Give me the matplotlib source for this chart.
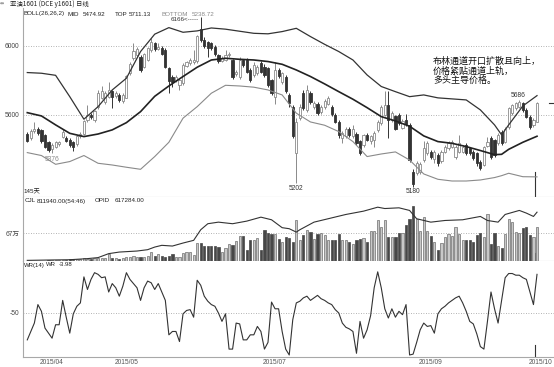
import matplotlib
matplotlib.use("Agg")
import matplotlib.pyplot as plt

plt.rcParams['font.family'] = ['Liberation Sans Narrow', 'Liberation Sans', 'DejaVu Sans',
                               'Noto Sans CJK SC']

# ---- daily candles (index 0..144) ----
opens = [5490, 5465, 5505, 5520, 5510, 5480, 5440, 5400, 5415, 5430,
         5470, 5465, 5455, 5440, 5430, 5475, 5490, 5570, 5600, 5570,
         5645, 5700, 5675, 5705, 5735, 5710, 5715, 5680, 5700, 5840,
         5928, 5945, 5938, 5880, 5920, 5975, 6015, 5980, 5990, 5975,
         5870, 5820, 5800, 5775, 5785, 5885, 5900, 5905, 5910, 6100,
         6035, 6020, 6015, 5995, 5945, 5915, 5920, 5945, 5918, 5835,
         5822, 5918, 5920, 5860, 5830, 5840, 5900, 5880, 5870, 5800,
         5705, 5860, 5790, 5820, 5715, 5645, 5375, 5580, 5725, 5625,
         5725, 5645, 5665, 5615, 5645, 5665, 5645, 5600, 5560, 5465,
         5475, 5520, 5475, 5490, 5445, 5425, 5485, 5445, 5455, 5510,
         5550, 5600, 5655, 5570, 5590, 5600, 5525, 5570, 5540, 5270,
         5260, 5265, 5337, 5375, 5385, 5345, 5365, 5330, 5385, 5405,
         5415, 5357, 5385, 5385, 5425, 5405, 5385, 5375, 5328, 5308,
         5420, 5463, 5453, 5434, 5502, 5444, 5530, 5610, 5637, 5647,
         5667, 5628, 5589, 5540, 5560]
closes = [5450, 5505, 5520, 5495, 5445, 5415, 5395, 5425, 5440, 5440,
          5500, 5450, 5425, 5410, 5475, 5490, 5565, 5600, 5585, 5620,
          5725, 5735, 5725, 5745, 5705, 5725, 5685, 5715, 5825, 5895,
          5973, 5980, 5860, 5950, 5985, 6025, 5980, 5995, 5955, 5880,
          5795, 5790, 5820, 5800, 5890, 5905, 5918, 5920, 6055, 6035,
          6000, 5990, 5985, 5950, 5910, 5930, 5945, 5950, 5822, 5850,
          5918, 5890, 5850, 5800, 5890, 5880, 5850, 5830, 5770, 5725,
          5860, 5825, 5840, 5735, 5667, 5475, 5560, 5645, 5640, 5745,
          5675, 5670, 5610, 5645, 5680, 5695, 5605, 5560, 5485, 5495,
          5520, 5480, 5515, 5435, 5375, 5480, 5455, 5475, 5495, 5560,
          5645, 5655, 5570, 5610, 5520, 5550, 5565, 5545, 5337, 5195,
          5318, 5315, 5405, 5435, 5357, 5385, 5318, 5385, 5415, 5434,
          5444, 5415, 5434, 5415, 5375, 5375, 5347, 5318, 5290, 5410,
          5440, 5357, 5366, 5482, 5434, 5520, 5637, 5657, 5667, 5676,
          5628, 5589, 5531, 5570, 5667]
highs = [5500, 5515, 5560, 5530, 5520, 5490, 5450, 5435, 5450, 5450,
         5520, 5475, 5465, 5450, 5485, 5500, 5570, 5655, 5610, 5630,
         5745, 5765, 5740, 5790, 5745, 5735, 5725, 5725, 5830, 5905,
         6015, 5995, 5945, 5960, 5995, 6045, 6025, 6015, 6000, 5985,
         5880, 5830, 5830, 5815, 5900, 5915, 5930, 5975, 6065, 6166,
         6050, 6030, 6025, 6005, 5955, 5940, 5975, 5965, 5925, 5860,
         5935, 5925, 5930, 5870, 5905, 5890, 5910, 5895, 5880, 5810,
         5905, 5870, 5850, 5830, 5725, 5655, 5580, 5660, 5745, 5770,
         5735, 5680, 5675, 5655, 5690, 5710, 5655, 5610, 5570, 5505,
         5530, 5530, 5540, 5500, 5455, 5490, 5495, 5485, 5505, 5570,
         5655, 5735, 5735, 5620, 5600, 5610, 5575, 5605, 5550, 5285,
         5330, 5325, 5445, 5445, 5395, 5395, 5375, 5395, 5425, 5445,
         5455, 5425, 5482, 5425, 5435, 5415, 5395, 5385, 5335, 5420,
         5470, 5475, 5460, 5495, 5510, 5530, 5647, 5665, 5675, 5686,
         5675, 5640, 5600, 5580, 5672]
lows = [5440, 5455, 5495, 5485, 5435, 5405, 5385, 5376, 5405, 5420,
        5465, 5440, 5415, 5390, 5420, 5465, 5480, 5560, 5575, 5560,
        5635, 5690, 5665, 5695, 5640, 5700, 5675, 5670, 5695, 5830,
        5920, 5935, 5850, 5870, 5910, 5965, 5970, 5975, 5945, 5870,
        5725, 5760, 5790, 5745, 5775, 5875, 5890, 5895, 5900, 6020,
        5990, 5935, 5975, 5940, 5900, 5905, 5910, 5935, 5810, 5825,
        5810, 5880, 5840, 5790, 5820, 5830, 5840, 5820, 5760, 5715,
        5665, 5815, 5780, 5725, 5645, 5465, 5202, 5570, 5625, 5615,
        5660, 5635, 5600, 5605, 5635, 5655, 5595, 5550, 5465, 5435,
        5465, 5470, 5465, 5425, 5365, 5415, 5445, 5430, 5415, 5500,
        5540, 5590, 5465, 5560, 5510, 5540, 5515, 5535, 5325, 5180,
        5250, 5255, 5325, 5365, 5345, 5318, 5305, 5320, 5375, 5395,
        5405, 5345, 5375, 5375, 5365, 5365, 5335, 5305, 5280, 5300,
        5410, 5345, 5355, 5425, 5425, 5435, 5520, 5600, 5630, 5640,
        5618, 5580, 5515, 5530, 5555]

# ---- BOLL(26,26,2) ----
band_idx = [0, 4, 8, 12, 16, 20, 24, 28, 32, 36, 40, 44, 48, 52, 56, 60, 64, 68, 72,
            76, 80, 84, 88, 92, 96, 100, 104, 108, 112, 116, 120, 124, 128, 132, 134,
            136, 140, 144]
boll_top = [5845, 5841, 5829, 5705, 5574, 5647, 5744, 5812, 5967, 6068, 6106, 6079, 6087,
            6104, 6097, 6085, 6073, 6070, 6083, 6102, 6054, 6009, 5967, 5918, 5831, 5764,
            5734, 5705, 5715, 5698, 5692, 5686, 5628, 5541, 5483, 5541, 5651, 5711]
boll_mid = [5612, 5593, 5541, 5492, 5473, 5488, 5512, 5554, 5618, 5707, 5767, 5822, 5876,
            5918, 5928, 5922, 5918, 5909, 5893, 5860, 5822, 5779, 5734, 5690, 5641, 5589,
            5564, 5533, 5477, 5444, 5434, 5415, 5392, 5368, 5370, 5399, 5440, 5475]
boll_bot = [5380, 5363, 5312, 5328, 5363, 5318, 5308, 5295, 5283, 5357, 5440, 5580, 5647,
            5725, 5771, 5767, 5760, 5744, 5715, 5609, 5558, 5539, 5502, 5444, 5357, 5372,
            5384, 5337, 5256, 5225, 5215, 5215, 5221, 5235, 5246, 5260, 5240, 5239]

# ---- volume (CJL, thousand lots) ----
volume = [8, 6, 8, 7, 10, 9, 30, 25, 33, 28, 35, 30, 38, 33, 40, 36, 60, 55, 50, 62,
          80, 70, 65, 160, 70, 60, 58, 64, 90, 96, 120, 100, 96, 104, 110, 216, 120, 160,
          110, 100, 130, 176, 96, 104, 200, 216, 208, 136, 440, 440, 360, 360, 360, 352,
          344, 216, 320, 400, 376, 479, 599, 599, 256, 511, 511, 559, 256, 735, 671, 639,
          639, 519, 455, 575, 551, 455, 990, 495, 615, 751, 695, 535, 639, 671, 615, 495,
          495, 511, 655, 511, 495, 455, 415, 511, 535, 559, 455, 719, 719, 990, 814, 990,
          575, 575, 575, 671, 671, 854, 1014, 1309, 1014, 719, 1054, 719, 591, 455, 256,
          440, 575, 639, 591, 815, 655, 511, 495, 495, 455, 615, 671, 575, 1118, 400, 671,
          360, 320, 655, 1014, 935, 695, 671, 790, 814, 630, 575, 812]

# ---- open interest (OPID, thousand lots) ----
oi_idx = [0, 7, 12, 17, 20, 23, 26, 31, 34, 36, 38, 41, 44, 47, 49, 51, 54, 58, 62, 66,
          69, 72, 74, 76, 77, 81, 85, 90, 95, 99, 101, 105, 108, 110, 114, 118, 123, 128,
          130, 133, 135, 139, 141, 143, 144]
oi = [8, 13, 16, 30, 43, 93, 113, 126, 143, 176, 198, 189, 227, 261, 395, 471, 491, 471,
      504, 554, 521, 421, 408, 365, 395, 491, 534, 588, 630, 680, 663, 672, 639, 534, 491,
      512, 521, 563, 512, 491, 588, 639, 605, 563, 617]

# ---- WR(14) ----
wr = [-82, -72, -62, -40, -48, -68, -74, -80, -64, -64, -35, -55, -74, -51, -42, -38,
      -7, -22, -10, -2, -4, -8, -7, -25, -15, -20, -30, -18, -2, -10, -15, -20, -35, -20,
      -12, -14, -22, -15, -25, -35, -76, -72, -72, -84, -51, -47, -46, -55, -11, -17,
      -30, -36, -40, -42, -50, -60, -51, -93, -93, -62, -63, -82, -82, -76, -76, -66,
      -72, -93, -85, -37, -45, -45, -72, -93, -100, -58, -38, -36, -32, -30, -35, -32,
      -29, -33, -35, -38, -40, -46, -50, -62, -67, -69, -72, -98, -60, -80, -70, -53,
      -20, -1, -20, -45, -56, -45, -55, -48, -52, -40, -100, -99, -85, -70, -62, -66,
      -65, -74, -51, -45, -42, -38, -35, -32, -30, -38, -48, -60, -63, -75, -90, -93,
      -60, -25, -45, -62, -35, -8, -3, -3, -5, -5, -8, -10, -25, -40, -3.98]

date_ticks = [7, 28, 70, 114, 145]
date_labels = ['2015/04', '2015/05', '2015/07', '2015/09', '2015/10']

W, H = 554, 367
fig = plt.figure(figsize=(W / 100, H / 100), dpi=100)


def fx(x):
    return x / W


def fy(y):
    return 1 - y / H


L, R = 23, 554
ax_p = fig.add_axes([fx(L), fy(196.5), (R - L) / W, (196.5 - 8) / H])
ax_v = fig.add_axes([fx(L), fy(261), (R - L) / W, (261 - 196.5) / H])
ax_w = fig.add_axes([fx(L), fy(357), (R - L) / W, (357 - 261) / H])

grid_kw = dict(color='#9a9a9a', lw=0.6, linestyle=(0, (1, 2)), zorder=0)
for ax in (ax_p, ax_v, ax_w):
    ax.set_xlim(-1.21, 148.8)
    ax.spines['top'].set_visible(False)
    ax.spines['right'].set_visible(False)
    ax.spines['left'].set_color('#a8a8a8')
    ax.spines['bottom'].set_color('#a8a8a8')
    ax.spines['left'].set_linewidth(0.8)
    ax.spines['bottom'].set_linewidth(0.8)
    ax.tick_params(length=0, labelsize=4.8, colors='#444444', pad=2.5)
    ax.set_xticks([])

# candles
idx = list(range(len(closes)))
up = [c >= o for o, c in zip(opens, closes)]
edge = ['#8a8a8a' if u else '#333333' for u in up]
face = ['white' if u else '#333333' for u in up]
ax_p.vlines(idx, lows, highs, colors=edge, lw=0.7, zorder=2)
ax_p.bar(idx, [max(abs(c - o), 4) for o, c in zip(opens, closes)],
         bottom=[min(o, c) for o, c in zip(opens, closes)],
         width=0.62, color=face, edgecolor=edge, linewidth=0.6, zorder=3)

ax_p.plot(band_idx, boll_top, color='#333333', lw=0.9, zorder=4)
ax_p.plot(band_idx, boll_mid, color='#222222', lw=1.2, zorder=4)
ax_p.plot(band_idx, boll_bot, color='#8a8a8a', lw=0.8, zorder=4)

ax_p.set_ylim(5125, 6220)
ax_p.set_yticks([5600, 6000])
ax_p.set_yticklabels(['5600', '6000'])
for v in (5600, 6000):
    ax_p.axhline(v, **grid_kw)

# extreme-value marks
ax_p.annotate('6166<-----', (49, 6166), xytext=(-1, -1.5), textcoords='offset points',
              ha='right', va='center', fontsize=4.5, color='#333333')
ax_p.annotate('5376', (7, 5376), xytext=(0, -2), textcoords='offset points',
              ha='center', va='top', fontsize=4.8, color='#888888')
ax_p.annotate('5202', (76, 5202), xytext=(0, -1), textcoords='offset points',
              ha='center', va='top', fontsize=4.8, color='#333333')
ax_p.annotate('5180', (109, 5180), xytext=(0, -1), textcoords='offset points',
              ha='center', va='top', fontsize=4.8, color='#333333')
ax_p.annotate('5686', (139, 5686), xytext=(-1, 1), textcoords='offset points',
              ha='center', va='bottom', fontsize=4.8, color='#333333')

# cursor and last price marks
ax_p.axvline(143.5, ymin=0, ymax=0.13, color='#333333', lw=0.8)
ax_v.axvline(143.5, ymin=0, ymax=0.125, color='#333333', lw=0.8)
ax_w.axvline(143.5, ymin=0, ymax=0.125, color='#333333', lw=0.8)
ax_p.plot([0.99, 1.0], [closes[-1], closes[-1]], color='#333333', lw=0.8,
          transform=ax_p.get_yaxis_transform(), clip_on=False)

ax_p.text(0.772, 0.74, '布林通道开口扩散且向上，\n价格紧贴通道上轨，\n多头主导价格。',
          transform=ax_p.transAxes, fontsize=6.5, family=['Noto Sans CJK SC'],
          ha='left', va='top', linespacing=1.05, color='#111111')

# volume + open interest
vcol = ['#c8c8c8' if u else '#474747' for u in up]
vedge = ['#6e6e6e' if u else '#474747' for u in up]
ax_v.bar(idx, volume, width=0.62, color=vcol, edgecolor=vedge, linewidth=0.5, zorder=2)
ax_v.set_ylim(0, 1540)
ax_v.set_yticks([670])
ax_v.set_yticklabels(['67万'])
ax_v.axhline(670, **grid_kw)
ax_oi = ax_v.twinx()
ax_oi.plot(oi_idx, oi, color='#333333', lw=0.8)
ax_oi.set_ylim(0, 815)
ax_oi.set_xlim(-1.21, 148.8)
ax_oi.axis('off')

# WR
ax_w.plot(idx, wr, color='#333333', lw=0.8)
ax_w.set_ylim(-102.4, 11.9)
ax_w.set_yticks([-50])
ax_w.set_yticklabels(['-50'])
ax_w.axhline(-50, **grid_kw)
ax_w.set_xticks(date_ticks)
ax_w.set_xticklabels(date_labels)
ax_w.tick_params(axis='x', pad=1.5, colors='#555555')

# header texts


def hdr(x, y, s, color='#222222', size=4.5, family=None):
    kw = dict(fontsize=size, color=color, ha='left', va='center')
    if family:
        kw['family'] = family
    fig.text(fx(x), fy(y), s, **kw)


hdr(0, 4, '⇔', size=3.5, color='#555555', family=['DejaVu Sans'])
hdr(10, 4, '亚油1601 (DCE y1601) 日线', size=4.6, family=['Noto Sans CJK SC'])
hdr(24, 14, 'BOLL(26,26,2)')
hdr(67, 14, 'MID')
hdr(83, 14, '5474.92')
hdr(115, 14, 'TOP')
hdr(129, 14, '5711.13')
hdr(161, 14, 'BOTTOM', color='#8a8a8a')
hdr(192, 14, '5238.72', color='#8a8a8a')
hdr(23, 192, '145天', family=['Liberation Sans Narrow', 'Liberation Sans', 'Noto Sans CJK SC'])
hdr(25, 201, 'CJL')
hdr(37, 201, '811940.00(54:46)')
hdr(95, 201, 'OPID')
hdr(115, 201, '617284.00')
hdr(24, 265, 'WR(14)', size=4.3)
hdr(46, 265, 'WR', size=4.3)
hdr(59, 265, '-3.98', size=4.3)

fig.savefig('out.png', dpi=100)
